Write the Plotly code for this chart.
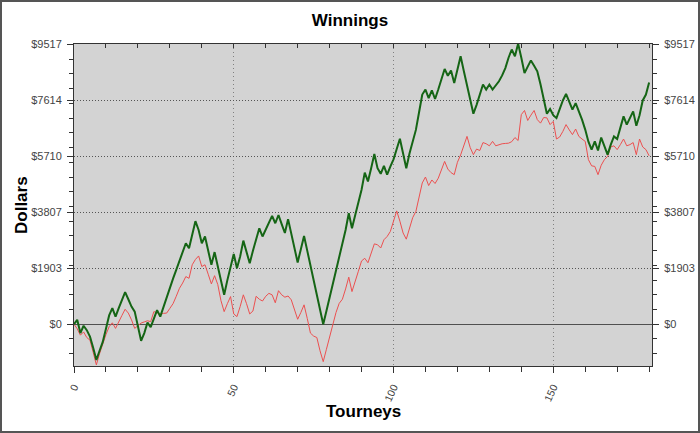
import plotly.graph_objects as go

# tourney index and cumulative dollars
tourneys = list(range(0, 181))

winnings = [
    0, 150, -300, -50, -200, -420, -800, -1210, -900, -600,
    -150, 300, 550, 260, 550, 820, 1090, 850, 600, 430,
    -100, -560, -300, 60, -100, 200, 480, 260, 600, 940,
    1250, 1550, 1850, 2150, 2450, 2750, 2580, 3050, 3500, 3200,
    2750, 2980, 2450, 2020, 2450, 1950, 1450, 1000, 1500, 1950,
    2390, 1900, 2300, 2840, 2450, 2070, 2500, 2900, 3260, 2980,
    3220, 3450, 3680, 3430, 3710, 3400, 3100, 3570, 3100, 2600,
    2100, 2550, 3000, 2500, 2000, 1450, 950, 450, 0, 450,
    900, 1350, 1800, 2250, 2700, 3200, 3770, 3260, 3700, 4150,
    4570, 5150, 4850, 5300, 5780, 5300, 5110, 5380, 5080, 5350,
    5600, 5950, 6300, 5800, 5300, 5800, 6200, 6600, 7200, 7800,
    7970, 7680, 7940, 7650, 7970, 8300, 8670, 8440, 8620, 8190,
    8650, 9100, 8600, 8100, 7600, 7150, 7450, 7800, 8140, 7970,
    8140, 7970, 8100, 8250, 8450, 8700, 9050, 9330, 9100, 9530,
    9050, 8530, 8750, 8960, 8780, 8590, 8150, 7700, 7150, 7310,
    7100, 7000, 7300, 7600, 7820, 7550, 7290, 7510, 7250, 6950,
    6610, 6200, 5930, 6210, 5900, 6340, 6050, 5760, 6100, 6380,
    6290, 6700, 7060, 6780, 7000, 7230, 6740, 7100, 7600, 7800,
    8210,
]

second = [
    0, -150, -370, -260, -450, -540, -950, -1380, -1000, -650,
    -350, -80, 50, -140, 100, 300, 510, 380, 150, -140,
    -50, 40, 80, 120, 90, 430, 390, 340, 370, 380,
    540, 700, 950, 1220, 1400, 1620, 1560, 2020, 2200, 2320,
    1960, 2020, 1700, 1370, 1650, 1350, 800, 430, 700, 940,
    350, 260, 600, 1000, 700, 350, 450, 950, 850, 790,
    950, 1050, 1000, 730, 1140, 1000, 920, 960, 830, 500,
    170, 400, 660, 200, -300, -400, -450, -900, -1270, -850,
    -400, 30, 400, 710, 850, 1200, 1600, 1110, 1500, 1800,
    2150, 2240, 2090, 2400, 2730, 2700, 2590, 2870, 2980, 3150,
    3500, 3850, 3500, 3100, 2890, 3300, 3620, 3830, 4300, 4800,
    5000, 4710, 4900, 4780, 4960, 5250, 5530, 5270, 5150, 5080,
    5500, 5750, 6100, 6380, 6000, 5760, 5950, 5900, 6170, 6130,
    6060, 6210, 6060, 6100, 6130, 6140, 6150, 6200, 6340, 6240,
    7120, 7260, 6920, 7100, 7260, 6950, 6830, 7020, 7010, 6780,
    6890, 6290, 6360, 6550, 6780, 6600, 6440, 6630, 6380, 6290,
    6210, 5590, 5380, 5360, 5080, 5400, 5590, 5700, 6020, 6060,
    5930, 6100, 6290, 6060, 6100, 6170, 5760, 6290, 6020, 5930,
    5720,
]

dollar_ticks = [0, 1903, 3807, 5710, 7614, 9517]
dollar_labels = ['$%d' % v for v in dollar_ticks]

W, H = 700, 433
ML, MR, MT, MB = 74, 48, 44, 67
xr = [0, 180.9]
yr = [-1417, 9517]
font = 'Liberation Sans, Arial, sans-serif'

fig = go.Figure()
fig.add_trace(go.Scatter(x=tourneys, y=second, mode='lines',
                         line=dict(color='#ec5050', width=1)))
fig.add_trace(go.Scatter(x=tourneys, y=winnings, mode='lines',
                         xaxis='x2', yaxis='y2',
                         line=dict(color='#156515', width=2)))

tickfont = dict(family=font, size=11, color='#444')
fig.update_layout(
    width=W, height=H,
    margin=dict(l=ML, r=MR, t=MT, b=MB, autoexpand=False),
    paper_bgcolor='white', plot_bgcolor='#d3d3d3',
    showlegend=False,
    font=dict(family=font),
    title=dict(text='<b>Winnings</b>', x=0.5, xref='container',
               y=1 - 20 / H, yanchor='middle', yref='container',
               font=dict(family=font, size=17, color='black')),
    xaxis=dict(range=xr, tickmode='linear', tick0=0, dtick=50,
               ticks='outside', ticklen=6, tickcolor='#333',
               tickangle=-65, tickfont=dict(family=font, size=10.5, color='#444'),
               ticklabelstandoff=4,
               showgrid=True, gridcolor='#808080', griddash='1px,3px', gridwidth=1,
               zeroline=False, showline=True, linecolor='#333', linewidth=1,
               minor=dict(tickmode='linear', tick0=0, dtick=10, ticks='outside',
                          ticklen=5, tickcolor='#333', showgrid=False)),
    xaxis2=dict(range=xr, overlaying='x', side='top', tickmode='linear',
                tick0=0, dtick=10, ticks='inside', ticklen=4, tickcolor='#333',
                showticklabels=False, showgrid=False, zeroline=False,
                showline=True, linecolor='#333', linewidth=1),
    yaxis=dict(range=yr, tickmode='array', tickvals=dollar_ticks,
               ticktext=dollar_labels, ticks='outside', ticklen=6,
               tickcolor='#333', tickfont=tickfont, ticklabelstandoff=3,
               showgrid=True, gridcolor='#555', griddash='1px,2px', gridwidth=1,
               zeroline=True, zerolinecolor='#505050', zerolinewidth=1,
               showline=True, linecolor='#333', linewidth=1,
               minor=dict(tickmode='linear', tick0=0, dtick=500, ticks='outside',
                          ticklen=4, tickcolor='#333', showgrid=False)),
    yaxis2=dict(range=yr, overlaying='y', side='right', tickmode='array',
                tickvals=dollar_ticks, ticktext=dollar_labels, ticks='outside',
                ticklen=6, tickcolor='#333', tickfont=tickfont,
                ticklabelstandoff=3,
                showgrid=False, zeroline=False,
                showline=True, linecolor='#333', linewidth=1,
                minor=dict(tickmode='linear', tick0=0, dtick=500, ticks='outside',
                           ticklen=4, tickcolor='#333', showgrid=False)),
)

pw = W - ML - MR
ph = H - MT - MB
fig.add_annotation(text='<b>Dollars</b>', xref='paper', yref='paper',
                   x=(21 - ML) / pw, y=0.5, xanchor='center', yanchor='middle',
                   textangle=-90, showarrow=False,
                   font=dict(family=font, size=17, color='black'))
fig.add_annotation(text='<b>Tourneys</b>', xref='paper', yref='paper',
                   x=0.5, y=-(411 - (H - MB)) / ph, xanchor='center',
                   yanchor='middle', showarrow=False,
                   font=dict(family=font, size=17, color='black'))
# outer frame of the picture
fig.add_shape(type='rect', xref='paper', yref='paper',
              x0=-(ML - 1) / pw, x1=1 + (MR - 1) / pw,
              y0=-(MB - 1) / ph, y1=1 + (MT - 1) / ph,
              line=dict(color='#555', width=2))

fig.write_html('out.html', config={'displayModeBar': False},
               post_script="document.body.style.margin='0';")
